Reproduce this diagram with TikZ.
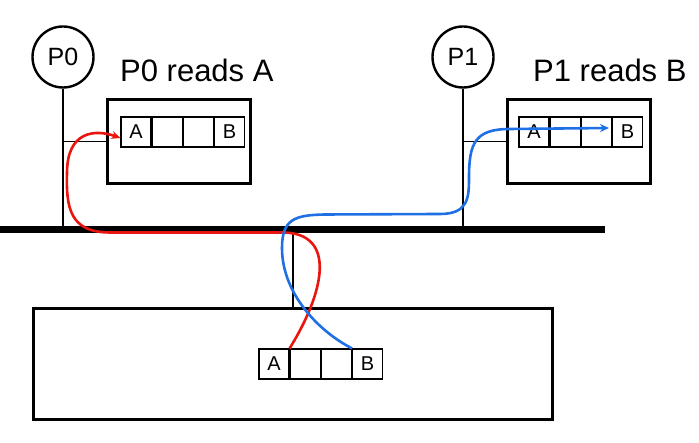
\documentclass[tikz,border=0pt]{standalone}
\usepackage{fontspec}
\setmainfont{Liberation Sans}
\usetikzlibrary{arrows.meta,positioning}
\definecolor{Ink}{HTML}{000000}
\definecolor{Crimson}{HTML}{E8160F}
\definecolor{Azure}{HTML}{1F6FE5}
\tikzset{
  proc/.style={
    circle, draw=Ink, line width=2.4pt, minimum size=61pt,
    inner sep=0pt, font=\fontsize{25}{29}\selectfont
  },
  heading/.style={inner sep=0pt, font=\fontsize{31}{36}\selectfont},
  cache/.style={
    draw=Ink, line width=2.6pt, minimum width=143pt, minimum height=84pt
  },
  memory/.style={
    draw=Ink, line width=2.6pt, minimum width=519pt, minimum height=111pt
  },
  cell/.style={
    draw=Ink, line width=1.2pt, minimum size=30pt,
    inner sep=0pt, font=\fontsize{20}{24}\selectfont
  },
  wire/.style={draw=Ink, line width=1.3pt},
  bus/.style={draw=Ink, line width=7pt},
  readA/.style={-{Stealth[length=9pt,width=8pt]}, line width=2.6pt, draw=Crimson},
  readB/.style={-{Stealth[length=9pt,width=8pt]}, line width=2.6pt, draw=Azure}
}
\begin{document}
\begin{tikzpicture}[x=1pt,y=1pt]
  \useasboundingbox (0,0) rectangle (699,443);
  \coordinate (busL) at (0,213);
  \coordinate (busR) at (605,213);
  % processors
  \node[proc] (P0) at (63,386) {P0};
  \node[proc] (P1) at (463,386) {P1};
  \node[heading,anchor=base west] (lab0) at (120,361) {P0 reads A};
  \node[heading,anchor=base west] (lab1) at (533,361) {P1 reads B};
  % caches and memory
  \node[cache] (cache0) at (179,301.5) {};
  \node[cache] (cache1) at (579,301.5) {};
  \node[memory] (mem) at (293,79) {};
  \node[cell] (a1) at (136,311) {A};
  \node[cell,right=0pt of a1] (a2) {};
  \node[cell,right=0pt of a2] (a3) {};
  \node[cell,right=0pt of a3] (a4) {B};
  \node[cell] (b1) at (534,311) {A};
  \node[cell,right=0pt of b1] (b2) {};
  \node[cell,right=0pt of b2] (b3) {};
  \node[cell,right=0pt of b3] (b4) {B};
  \node[cell] (m1) at (274,79) {A};
  \node[cell,right=0pt of m1] (m2) {};
  \node[cell,right=0pt of m2] (m3) {};
  \node[cell,right=0pt of m3] (m4) {B};
  % bus and taps
  \draw[wire] (P0) -- (P0 |- busL);
  \draw[wire] (P1) -- (P1 |- busL);
  \draw[wire] (P0 |- cache0.west) -- (cache0.west);
  \draw[wire] (P1 |- cache1.west) -- (cache1.west);
  \draw[wire] (mem.north) -- (mem.north |- busL);
  \draw[bus] (busL) -- (busR);
  % reads
  \draw[readA] (m1.north east)
    .. controls (324,150) and (338,210.5) .. (282,210.5) -- (110,210.5)
    .. controls (70,210.5) and (66,235) .. (67,270)
    .. controls (67,312) and (95,314) .. ([yshift=-6pt]a1.west);
  \draw[readB] (m4.north west)
    .. controls (318,112) and (282,150) .. (282,195)
    .. controls (282,224) and (295,228) .. (325,228.5) -- (440,229)
    .. controls (468,229) and (469,245) .. (469,265)
    .. controls (469,300) and (475,314) .. (510,314)
    -- ([shift={(-3pt,4pt)}]b4.west);
\end{tikzpicture}
\end{document}
